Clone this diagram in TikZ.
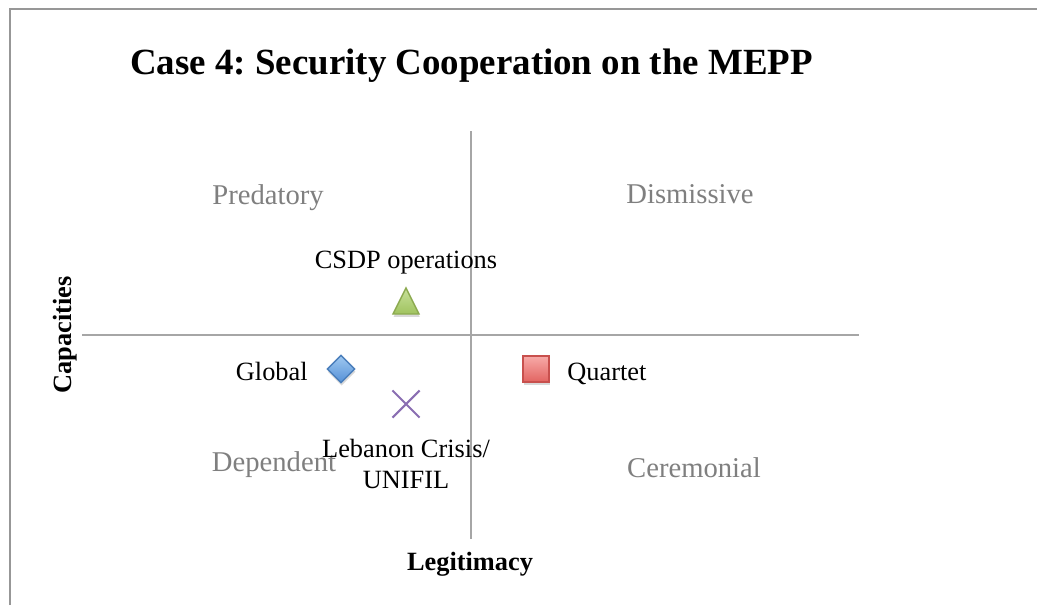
\documentclass[tikz,border=0pt]{standalone}
\usepackage{fontspec}
\setmainfont{Liberation Serif}
\usetikzlibrary{shapes.geometric,shapes.misc,shadows}
\definecolor{framegray}{HTML}{979797}
\definecolor{axisgray}{HTML}{A6A6A6}
\definecolor{quadgray}{HTML}{7F7F7F}
\frenchspacing
\tikzset{
  quadrant/.style={text=quadgray, font=\fontsize{16.3}{18}\selectfont, anchor=base, inner sep=0pt},
  actor/.style={font=\fontsize{15}{17}\selectfont, inner sep=0pt},
  axislabel/.style={font=\fontsize{15}{17}\selectfont\bfseries, inner sep=0pt},
  mshadow/.style={drop shadow={opacity=0.3, shadow xshift=0.4pt, shadow yshift=-1.6pt}},
}
\begin{document}
\begin{tikzpicture}[x=0.02cm, y=-0.02cm]
\useasboundingbox (0,0) rectangle (1037,605);
\draw[framegray, line width=1.2pt] (10,605)--(10,9)--(1037,9);
\node[font=\fontsize{21}{24}\selectfont\bfseries, anchor=base west, inner sep=0pt] (title) at (130,74) {Case 4: Security Cooperation on the MEPP};
% axes
\coordinate (xl) at (82,335);
\coordinate (xr) at (859,335);
\coordinate (yt) at (471,131);
\coordinate (yb) at (471,539);
\draw[axisgray, line width=1.1pt] (xl)--(xr);
\draw[axisgray, line width=1.1pt] (yt)--(yb);
\node[axislabel, rotate=90] (cap) at (65,335) {Capacities};
\node[axislabel, anchor=base] (leg) at (470,570) {Legitimacy};
% quadrants
\node[quadrant] (pred) at (268,204) {Predatory};
\node[quadrant] (dism) at (690,203) {Dismissive};
\node[quadrant] (dep) at (274,471) {Dependent};
\node[quadrant] (cer) at (694,477) {Ceremonial};
% markers
\coordinate (csdp) at (406,301);
\draw[mshadow, draw={rgb,255:red,140;green,170;blue,80}, line width=0.8pt,
  top color={rgb,255:red,200;green,225;blue,155}, bottom color={rgb,255:red,160;green,195;blue,95}]
  ([shift={(0,-13)}]csdp) -- ([shift={(13,13)}]csdp) -- ([shift={(-13,13)}]csdp) -- cycle;
\node[diamond, mshadow, minimum width=0.56cm, minimum height=0.56cm, inner sep=0pt, draw={rgb,255:red,74;green,126;blue,187}, line width=0.8pt,
  top color={rgb,255:red,160;green,200;blue,240}, bottom color={rgb,255:red,85;green,145;blue,215}] (glob) at (341,369) {};
\node[rectangle, mshadow, minimum size=0.52cm, inner sep=0pt, draw={rgb,255:red,200;green,80;blue,77}, line width=0.8pt,
  top color={rgb,255:red,247;green,170;blue,168}, bottom color={rgb,255:red,226;green,100;blue,97}] (quar) at (536,369) {};
\node[cross out, minimum size=0.5cm, inner sep=0pt, draw={rgb,255:red,138;green,110;blue,178}, line width=1.2pt] (leb) at (406,404) {};
% labels
\node[actor, anchor=base] (csdplab) at (406,268) {CSDP operations};
\node[actor, anchor=base east] (globlab) at (308,380) {Global};
\node[actor, anchor=base west] (quarlab) at (567,380) {Quartet};
\node[actor, anchor=base] (leblab) at (406,457) {Lebanon Crisis/};
\node[actor, anchor=base] (unilab) at (406,488) {UNIFIL};
\end{tikzpicture}
\end{document}
